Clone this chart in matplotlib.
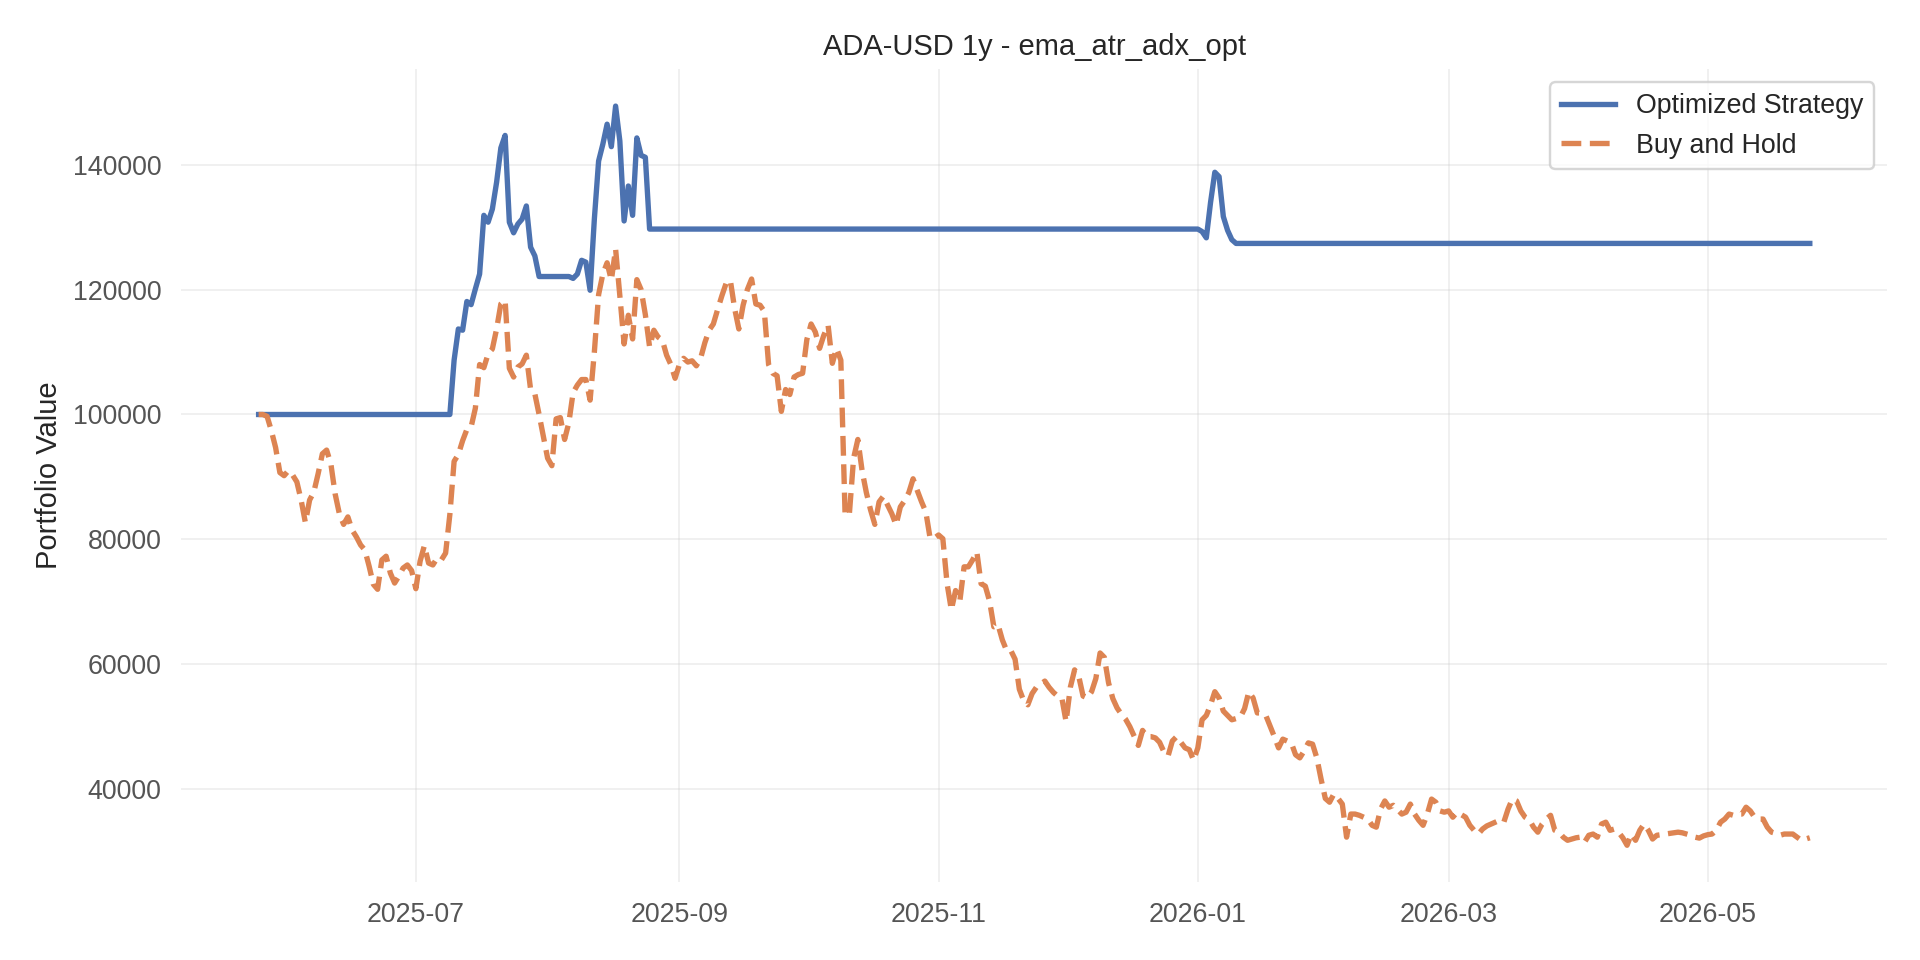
import matplotlib
matplotlib.use("Agg")
import matplotlib.pyplot as plt
import matplotlib.dates as mdates
import pandas as pd

title = "ADA-USD 1y - ema_atr_adx_opt"
ylabel = "Portfolio Value"
series_names = ["Optimized Strategy", "Buy and Hold"]
start_date = "2025-05-25"

# Buy and Hold: daily values (2025-05-25 .. 2026-05-25)
buy_hold = [
    100000, 100000, 99700, 97400, 94700, 90700, 90200, 91000, 90300, 89200,
    86300, 82700, 86300, 87600, 90500, 93700, 94300, 92100, 87300, 84100,
    82400, 83600, 81500, 80400, 79100, 78300, 75700, 72800, 72000, 76700,
    77300, 74600, 73000, 74100, 75400, 75900, 75000, 72100, 76500, 79000,
    76200, 75900, 77000, 76700, 77800, 84000, 92500, 93600, 95800, 97600,
    98000, 101000, 108000, 107500, 109700, 110500, 113700, 117700, 118300, 107400,
    106000, 107600, 108100, 109500, 104000, 103300, 100000, 96500, 93000, 91800,
    99300, 99500, 96000, 98700, 103500, 104700, 105600, 105600, 102300, 110000,
    119200, 122500, 124300, 121500, 126500, 119000, 111300, 115900, 112100, 121600,
    120000, 116000, 110800, 113500, 112400, 111900, 109500, 108000, 105800, 108000,
    109000, 108400, 108600, 107800, 109000, 111500, 113500, 114500, 116800, 119000,
    121000, 121500, 117000, 113700, 117500, 120000, 121700, 117700, 117500, 116500,
    108000, 106600, 106200, 100500, 104000, 103200, 106000, 106400, 106600, 112000,
    114500, 113200, 110600, 112700, 114300, 108200, 110600, 108700, 83900, 84000,
    93000, 96000, 91000, 87500, 84700, 82400, 86000, 86900, 85500, 84100,
    82300, 85200, 86200, 87500, 89700, 87800, 86000, 84400, 80200, 80200,
    80700, 80100, 72900, 68700, 71800, 70100, 75600, 75600, 76700, 78000,
    72900, 72500, 70100, 66000, 66300, 63900, 62200, 62200, 60800, 56000,
    54200, 53500, 55300, 56300, 56800, 57300, 56300, 55500, 54900, 54600,
    50800, 56300, 59100, 58000, 54900, 54600, 55600, 57700, 61800, 61100,
    57000, 54500, 53000, 52000, 51200, 50000, 48500, 47000, 49400, 48400,
    48400, 48200, 47500, 46000, 45300, 47700, 48400, 47500, 46600, 46300,
    44600, 46600, 51100, 51800, 53500, 55600, 54600, 52500, 51800, 51100,
    51300, 51500, 52900, 55600, 54600, 52200, 52200, 51800, 50100, 48400,
    46600, 48000, 47700, 47400, 45500, 45000, 46100, 47400, 47200, 45000,
    41600, 38500, 37900, 39200, 38500, 37600, 32300, 36000, 36000, 35800,
    35500, 35200, 34200, 33900, 36800, 38100, 37100, 37400, 36700, 36000,
    36300, 37600, 36000, 35000, 34200, 36000, 38400, 37900, 36500, 36300,
    36500, 35500, 36300, 35900, 35500, 34200, 33400, 32800, 33600, 34100,
    34400, 34700, 35000, 34700, 36800, 38400, 38100, 36500, 35500, 35100,
    33900, 33100, 34400, 35200, 35800, 33400, 33100, 32300, 31800, 32000,
    32200, 32300, 31500, 32600, 32800, 32300, 34400, 34700, 33400, 33600,
    33100, 32200, 31000, 32800, 31800, 33400, 34400, 33400, 32000, 32600,
    32700, 32800, 32900, 33000, 33100, 33000, 32800, 32600, 32300, 32150,
    32500, 32700, 32800, 33400, 34700, 35200, 36000, 35800, 36000, 36000,
    37100, 36500, 35500, 35200, 35200, 33900, 33100, 32900, 32600, 32800,
    32800, 32800, 32300, 31800, 32000, 32200,
]

# Optimized Strategy: vertices (day offset from start, value); flat between
strategy_days = [0, 45, 46, 47, 48, 49, 50, 51, 52, 53, 54, 55, 56, 57, 58, 59, 60,
                 61, 62, 63, 64, 65, 66, 73, 74, 75, 76, 77, 78, 79, 80, 81, 82,
                 83, 84, 85, 86, 87, 88, 89, 90, 91, 92, 221, 222, 223, 224, 225,
                 226, 227, 228, 229, 230, 365]
strategy_vals = [100000, 100000, 108700, 113700, 113500, 118100, 117600, 120100,
                 122500, 131900, 130800, 132900, 137200, 142700, 144700, 130800,
                 129100, 130500, 131300, 133400, 126800, 125400, 122100, 122100,
                 121800, 122500, 124700, 124400, 119900, 131300, 140600, 143300,
                 146500, 142900, 149400, 143800, 131000, 136600, 131900, 144300,
                 141500, 141200, 129700, 129700, 129300, 128300, 134000, 138800,
                 138100, 131700, 129500, 128000, 127400, 127400]

blue = "#4c72b0"
orange = "#dd8452"

start = pd.Timestamp(start_date)
bh_dates = pd.date_range(start, periods=len(buy_hold), freq="D")
st_dates = [start + pd.Timedelta(days=d) for d in strategy_days]

plt.rcParams["font.family"] = ["Liberation Sans", "DejaVu Sans"]

fig = plt.figure(figsize=(1920 / 175, 960 / 175), dpi=175)
ax = fig.add_axes([0.0943, 0.081, 0.8887, 0.847])

ax.plot(st_dates, strategy_vals, color=blue, lw=2.2, label=series_names[0])
ax.plot(bh_dates, buy_hold, color=orange, lw=2.2, ls="--", label=series_names[1])

ax.set_title(title, fontsize=12, color="#262626")
ax.set_ylabel(ylabel, fontsize=12, color="#262626")

ax.xaxis.set_major_locator(mdates.MonthLocator(bymonth=[1, 3, 5, 7, 9, 11]))
ax.xaxis.set_major_formatter(mdates.DateFormatter("%Y-%m"))

ax.grid(True, color="#cccccc", alpha=0.3, lw=0.8)
ax.set_axisbelow(True)
for s in ax.spines.values():
    s.set_visible(False)
ax.tick_params(axis="both", length=0, labelsize=11, labelcolor="#555555", pad=8)

leg = ax.legend(loc="upper right", fontsize=11, frameon=True)
leg.get_frame().set_edgecolor("#cccccc")
for t in leg.get_texts():
    t.set_color("#262626")

fig.savefig("out.png", dpi=175, facecolor="white")
